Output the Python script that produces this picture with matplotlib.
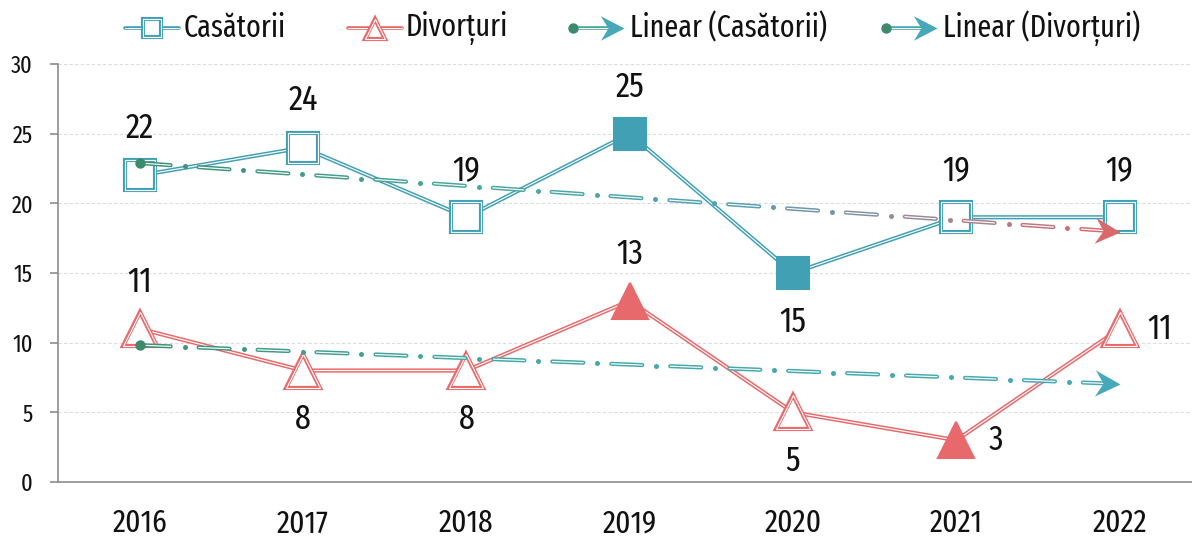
import numpy as np
import matplotlib
matplotlib.use("Agg")
import matplotlib.pyplot as plt
from matplotlib.path import Path
from matplotlib.markers import MarkerStyle
from matplotlib.transforms import Affine2D
from matplotlib.colors import LinearSegmentedColormap

# data
years = ['2016', '2017', '2018', '2019', '2020', '2021', '2022']
casatorii = [22, 24, 19, 25, 15, 19, 19]
divorturi = [11, 8, 8, 13, 5, 3, 11]
yticks = [0, 5, 10, 15, 20, 25, 30]

# where each data label sits relative to its marker
pos_cas = ['above', 'above', 'above', 'above', 'below', 'above', 'above']
pos_div = ['above', 'below', 'below', 'above', 'below', 'right', 'right']

plt.rcParams['font.family'] = ['Fira Sans Extra Condensed', 'DejaVu Sans']

BLUE = '#42a0b5'
RED = '#e8696b'
GREEN = '#3d8b6d'
TEAL = '#46a8b8'
cmap_cas = LinearSegmentedColormap.from_list(
    'cas', [(0, '#3f8f72'), (0.35, '#4aa8a0'), (0.6, '#52a0b8'), (0.8, '#9a8a98'), (1, '#d9686a')])
cmap_div = LinearSegmentedColormap.from_list(
    'div', [(0, '#3f8f72'), (0.3, '#44a8a4'), (1, '#46a8b8')])

W, H = 1192, 537
fig = plt.figure(figsize=(W / 100, H / 100), dpi=100)
ax = fig.add_axes([58 / W, (H - 482) / H, 1 - 58 / W, (482 - 64) / H])
x = np.arange(len(years))
ax.set_xlim(-0.5, -0.5 + (W - 58) / 163.33)
ax.set_ylim(0, 30)

# axes styling
for s in ['top', 'right']:
    ax.spines[s].set_visible(False)
for s in ['left', 'bottom']:
    ax.spines[s].set_color('#8c8c8c')
    ax.spines[s].set_linewidth(1.2)
ax.set_yticks(yticks)
ax.set_yticklabels([str(v) for v in yticks], fontsize=17.5, color='#111111')
ax.tick_params(axis='y', length=6, width=1.2, color='#8c8c8c', pad=12)
ax.set_xticks(x)
ax.set_xticklabels(years, fontsize=23, color='#111111')
ax.tick_params(axis='x', length=0, pad=19)
for v in yticks[1:]:
    ax.axhline(v, color='#dcdcdc', lw=0.8, ls=(0, (3, 2)), zorder=0)


def double_line(axis, xs, ys, color, z, lw=3.0):
    axis.plot(xs, ys, color=color, lw=lw, solid_capstyle='round',
              solid_joinstyle='round', zorder=z)
    axis.plot(xs, ys, color='white', lw=lw * 0.28, solid_capstyle='round',
              solid_joinstyle='round', zorder=z + 0.01)


def draw_markers(axis, xs, ys, marker, color, ms, filled, z):
    for i, (xi, yi) in enumerate(zip(xs, ys)):
        if i in filled:
            axis.plot(xi, yi, marker=marker, ms=ms + 1.5, mfc=color, mec=color,
                      mew=1.5, zorder=z)
        else:
            axis.plot(xi, yi, marker=marker, ms=ms, mfc='white', mec=color,
                      mew=3.0, zorder=z)
            axis.plot(xi, yi, marker=marker, ms=ms, mfc='none', mec='white',
                      mew=0.8, zorder=z + 0.01)


arrow_path = Path([(0, 0), (-1, 0.52), (-0.68, 0), (-1, -0.52), (0, 0)],
                  [Path.MOVETO, Path.LINETO, Path.LINETO, Path.LINETO, Path.CLOSEPOLY])


def trend_line(vals, cmap, arrow_color, z):
    k, b = np.polyfit(x, vals, 1)
    fit = k * x + b
    p0 = ax.transData.transform((x[0], fit[0]))
    p1 = ax.transData.transform((x[-1], fit[-1]))
    L = np.hypot(*(p1 - p0))
    u = (p1 - p0) / L
    inv = ax.transData.inverted()
    s = 0.0
    while s < L - 12:
        e = min(s + 31, L - 12)
        a = inv.transform(p0 + u * s)
        c = inv.transform(p0 + u * e)
        double_line(ax, [a[0], c[0]], [a[1], c[1]], cmap((s + e) / 2 / L), z, lw=3.0)
        d = s + 31 + 14
        if d < L - 20:
            pd = inv.transform(p0 + u * d)
            ax.plot(pd[0], pd[1], 'o', ms=3.6, color=cmap(d / L), mew=0, zorder=z)
        s = d + 14
    ax.plot(x[0], fit[0], 'o', ms=7.5, color=GREEN, mew=0, zorder=z + 0.1)
    ang = np.degrees(np.arctan2(u[1], u[0]))
    m = MarkerStyle(arrow_path, transform=Affine2D().rotate_deg(ang))
    ax.plot(x[-1], fit[-1], marker=m, ms=36, mfc=arrow_color, mec='none', zorder=z + 0.1)


# main series
double_line(ax, x, casatorii, BLUE, 3)
double_line(ax, x, divorturi, RED, 3)
cas = np.array(casatorii)
div = np.array(divorturi)
draw_markers(ax, x, casatorii, 's', BLUE, 22, {int(cas.argmax()), int(cas.argmin())}, 4)
draw_markers(ax, x, divorturi, '^', RED, 25, {int(div.argmax()), int(div.argmin())}, 4)

# trend lines
trend_line(casatorii, cmap_cas, '#d9686a', 6)
trend_line(divorturi, cmap_div, TEAL, 6)

# data labels
offs = {'above': (0, 47), 'below': (0, -49), 'right': (40, 0)}
for vals, poss in [(casatorii, pos_cas), (divorturi, pos_div)]:
    for xi, v, p in zip(x, vals, poss):
        dx, dy = offs[p]
        ax.annotate(str(v), (xi, v), xytext=(dx * 0.72, dy * 0.72),
                    textcoords='offset points', ha='center', va='center',
                    fontsize=25, color='#111111', zorder=8)

# legend drawn in pixel space
lax = fig.add_axes([0, 0, 1, 1])
lax.set_xlim(0, W)
lax.set_ylim(H, 0)
lax.axis('off')
ly = 28
double_line(lax, [125, 179], [ly, ly], BLUE, 3, lw=2.6)
draw_markers(lax, [152], [ly], 's', BLUE, 13, set(), 4)
lax.text(184, ly, 'Casătorii', fontsize=22, va='center', ha='left', color='#111111')

double_line(lax, [348, 402], [ly, ly], RED, 3, lw=2.6)
draw_markers(lax, [375], [ly + 1], '^', RED, 15, set(), 4)
lax.text(406, ly, 'Divorțuri', fontsize=22, va='center', ha='left', color='#111111')

for x0, label, col in [(573, 'Linear (Casătorii)', '#48a8a0'),
                       (886, 'Linear (Divorțuri)', '#46a8b0')]:
    double_line(lax, [x0, x0 + 36], [ly, ly], col, 3, lw=2.6)
    lax.plot(x0, ly, 'o', ms=7.5, color=GREEN, mew=0, zorder=5)
    lax.plot(x0 + 51, ly, marker=MarkerStyle(arrow_path), ms=34, mfc=TEAL,
             mec='none', zorder=5)
    lax.text(x0 + 57, ly, label, fontsize=22, va='center', ha='left', color='#111111')

fig.savefig('out.png', dpi=100)
